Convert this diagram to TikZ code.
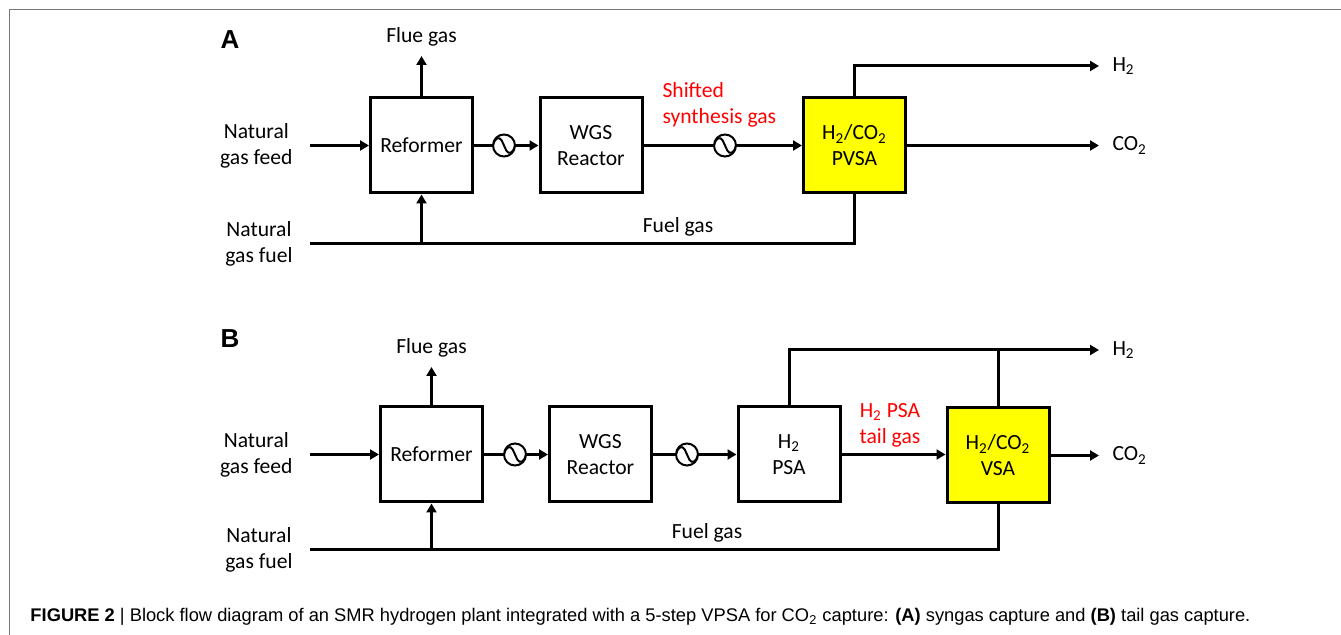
\documentclass[tikz,border=0pt]{standalone}
\usepackage{fontspec}
\setmainfont{Carlito}
\newfontfamily\capfont{Liberation Sans}
\usetikzlibrary{positioning,arrows.meta}
\definecolor{pvsayellow}{RGB}{255,255,0}
\definecolor{framegray}{RGB}{120,120,120}

\begin{document}
\begin{tikzpicture}[x=0.5pt,y=-0.5pt,>={Triangle[length=4.5pt,width=5pt]},
  line width=1.5pt,node distance=5pt,
  unit/.style={draw,line width=1.5pt,minimum width=51pt,minimum height=47.5pt,
    inner sep=0pt,align=center,font=\fontsize{10.8}{13}\selectfont},
  capture/.style={unit,fill=pvsayellow},
  lab/.style={font=\fontsize{10.8}{13}\selectfont,align=center,inner sep=1pt},
  redlab/.style={lab,text=red},
  panel/.style={font=\capfont\fontsize{13}{15}\selectfont\bfseries},
  hx/.style={circle,draw,line width=1pt,fill=white,minimum size=11pt,inner sep=0pt,
    path picture={\draw[line width=1pt,shift={(path picture bounding box.center)}]
      (-5.5pt,0pt) .. controls (-4.6pt,4pt) and (-2.4pt,4.6pt) .. (-1.2pt,2.6pt)
      -- (1.2pt,-2.6pt) .. controls (2.4pt,-4.6pt) and (4.6pt,-4pt) .. (5.5pt,0pt);}}]
\useasboundingbox (0,0) rectangle (1341,635);
\draw[framegray,line width=0.5pt] (9,635) -- (9,10) -- (1341,10);

% (A) syngas capture
\node[panel] (pA) at (230,40) {A};
\node[unit] (refA) at (421.5,145.5) {Reformer};
\node[unit] (wgsA) at (591,145.5) {WGS\\Reactor};
\node[capture] (pvsa) at (854.5,145.5) {H\textsubscript{2}/CO\textsubscript{2}\\PVSA};
\node[hx] (hxA1) at (504,145.5) {};
\node[hx] (hxA2) at (725,145.5) {};
\coordinate (feedA) at (310,145.5);
\coordinate (fuelA) at (310,244);
\coordinate (flueA) at (421.5,56);
\coordinate (jA) at (421.5,244);
\coordinate (h2A) at (1099,66);
\coordinate (co2A) at (1099,145.5);
\node[lab,left=7pt of feedA] {Natural\\gas feed};
\node[lab,left=7pt of fuelA] {Natural\\gas fuel};
\node[lab,above=3pt of flueA] {Flue gas};
\node[lab,right=5pt of h2A] {H\textsubscript{2}};
\node[lab,right=5pt of co2A] {CO\textsubscript{2}};
\node[redlab,align=left,anchor=west] (shift) at (659,105) {Shifted\\synthesis gas};
\node[lab] (fuelgasA) at (678,227) {Fuel gas};
\draw[->] (feedA) -- (refA);
\draw[->] (refA) -- (flueA);
\draw (refA) -- (hxA1);
\draw[->] (hxA1) -- (wgsA);
\draw (wgsA) -- (hxA2);
\draw[->] (hxA2) -- (pvsa);
\draw[->] (pvsa.north) |- (h2A);
\draw[->] (pvsa) -- (co2A);
\draw (pvsa.south) |- (fuelA);
\draw[->] (jA) -- (refA);

% (B) tail gas capture
\node[panel] (pB) at (230,339) {B};
\node[unit] (refB) at (431.5,454.5) {Reformer};
\node[unit] (wgsB) at (600.5,454.5) {WGS\\Reactor};
\node[unit] (psa) at (789,454.5) {H\textsubscript{2}\\PSA};
\node[capture] (vsa) at (998,455.5) {H\textsubscript{2}/CO\textsubscript{2}\\VSA};
\node[hx] (hxB1) at (515,454.5) {};
\node[hx] (hxB2) at (687,454.5) {};
\coordinate (feedB) at (310,454.5);
\coordinate (fuelB) at (310,550);
\coordinate (flueB) at (431.5,367);
\coordinate (jB) at (431.5,550);
\coordinate (h2B) at (1099,350);
\coordinate (co2B) at (1099,455.5);
\node[lab,left=7pt of feedB] {Natural\\gas feed};
\node[lab,left=7pt of fuelB] {Natural\\gas fuel};
\node[lab,above=3pt of flueB] {Flue gas};
\node[lab,right=5pt of h2B] {H\textsubscript{2}};
\node[lab,right=5pt of co2B] {CO\textsubscript{2}};
\node[redlab] (tail) at (890,425) {H\textsubscript{2} PSA\\tail gas};
\node[lab] (fuelgasB) at (707,533) {Fuel gas};
\draw[->] (feedB) -- (refB);
\draw[->] (refB) -- (flueB);
\draw (refB) -- (hxB1);
\draw[->] (hxB1) -- (wgsB);
\draw (wgsB) -- (hxB2);
\draw[->] (hxB2) -- (psa);
\draw[->] (psa.east) -- (psa.east -| vsa.west);
\draw[->] (psa.north) |- (h2B);
\draw (vsa.north) -- (vsa.north |- h2B);
\draw[->] (vsa.east |- co2B) -- (co2B);
\draw (vsa.south) |- (fuelB);
\draw[->] (jB) -- (refB);

% caption
\node[anchor=west,font=\capfont\fontsize{9.15}{11}\selectfont,inner sep=0pt] (cap) at (29,617)
  {\textbf{FIGURE 2} | Block flow diagram of an SMR hydrogen plant integrated with a 5-step VPSA for CO\textsubscript{2} capture: \textbf{(A)} syngas capture and \textbf{(B)} tail gas capture.};
\end{tikzpicture}
\end{document}
